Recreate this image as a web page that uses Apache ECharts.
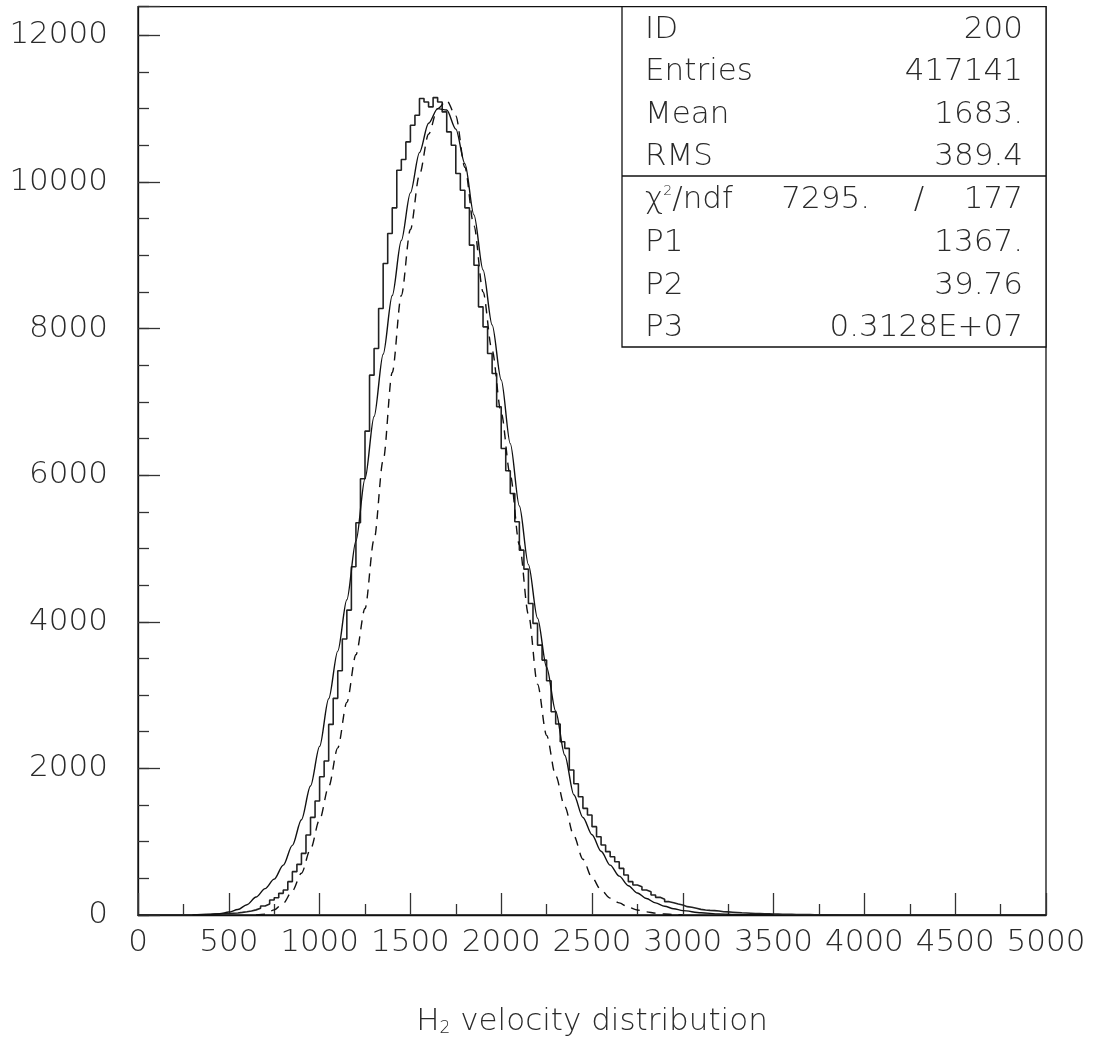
<!DOCTYPE html>
<html><head><meta charset="utf-8">
<script src="https://cdn.jsdelivr.net/npm/echarts@6/dist/echarts.min.js"></script>
<style>html,body{margin:0;padding:0;background:#fff}#c{width:1093px;height:1039px}</style>
</head><body><div id="c"></div>
<script>
// ---- data ----
const binWidth = 25;
const binStart = 0;
const counts = [
0,0,0,0,0,0,0,0,0,0, 0,0,4,6,8,10,12,14,17,20,
24,28,36,45,55,70,91,123,150,205, 236,295,341,455,591,691,841,1091,1332,1555,
1886,2100,2600,2955,3332,3764,4159,4750,5350,5950, 6600,7364,7728,8273,8887,9296,9646,10160,10305,10546,
10773,10910,11137,11091,11023,11150,11091,10955,10682,10500, 10114,9887,9646,9137,8864,8296,8023,7660,7387,6932,
6364,6060,5750,5364,4977,4718,4250,3978,3682,3477, 3195,2773,2605,2364,2273,1977,1790,1614,1455,1364,
1205,1068,955,864,795,727,636,545,455,409, 386,341,318,273,241,214,182,168,150,136,
114,105,91,77,68,63,60,55,45,42, 38,34,30,27,24,21,19,17,15,13,
12,10,9,8,7,6,5,5,4,4, 3,3,2,2,1,1,0,0,0,0,
0,0,0,0,0,0,0,0,0,0, 0,0,0,0,0,0,0,0,0,0,
0,0,0,0,0,0,0,0,0,0, 0,0,0,0,0,0,0,0,0,0
];
const solidX = [300,350,400,450,500,550,600,650,700,750,800,850,900,950,1000,1050,1100,1150,1200,1250,1300,1350,1400,1450,1500,1550,1600,1650,1700,1750,1800,1850,1900,1950,2000,2050,2100,2150,2200,2250,2300,2350,2400,2450,2500,2550,2600,2650,2700,2750,2800,2850,2900,2950,3000,3100,3200,3300,3400,3500];
const solidY = [1,3,8,18,40,75,140,245,360,490,680,950,1300,1760,2300,2950,3600,4300,5100,5950,6800,7650,8450,9200,9850,10400,10800,11000,10980,10720,10250,9550,8800,8050,7300,6430,5580,4780,4050,3380,2780,2180,1640,1330,1095,870,680,530,400,300,225,165,120,85,60,30,15,7,3,1];
const dashX = [650,700,750,800,850,900,950,1000,1050,1100,1150,1200,1250,1300,1350,1400,1450,1500,1550,1600,1650,1700,1750,1800,1850,1900,1950,2000,2050,2100,2150,2200,2250,2300,2350,2400,2450,2500,2550,2600,2650,2700,2750,2800,2850,2900,2950,3000];
const dashY = [2,12,70,160,330,570,900,1300,1750,2280,2900,3550,4180,5120,6200,7400,8450,9350,10100,10650,11000,11110,10900,10200,9400,8500,7700,6850,6000,5050,4100,3150,2450,1900,1480,1080,760,510,340,230,165,105,68,42,25,14,7,2];
const xMin = 0, xMax = 5000, xStep = 500;
const yMin = 0, yMax = 12390, yStep = 2000, yMinorStep = 500;
const statNames = ['ID','Entries','Mean','RMS'];
const statValues = ['200','417141','1683.','389.4'];
const chi2Value = '7295.';
const ndfValue = '177';
const parNames = ['P1','P2','P3'];
const parValues = ['1367.','39.76','0.3128E+07'];
const xTitle = '{n|H}{sub|2}{n| velocity distribution}';

// ---- build ----
const histData = counts.map((c,i)=>[binStart+i*binWidth, c]);
histData.push([binStart+counts.length*binWidth, counts[counts.length-1]]);
const solidData = solidX.map((x,i)=>[x, solidY[i]]);
const dashData = dashX.map((x,i)=>[x, dashY[i]]);

const FONT = 'DejaVu Sans';
const TXT = '#2a2a2a';
const LINE = '#111';
const fs = 31;

const chart = echarts.init(document.getElementById('c'), null, {renderer:'canvas'});

const boxL = 622, boxR = 1046, boxT = 6.7, boxDiv = 176, boxB = 347;
const rowY = [30,72,115,157,200,243,286,328];
const graphics = [
  {type:'rect', shape:{x:boxL, y:boxT, width:boxR-boxL, height:boxB-boxT}, style:{fill:'#fff', stroke:LINE, lineWidth:1.3}, z:100},
  {type:'line', shape:{x1:boxL, y1:boxDiv, x2:boxR, y2:boxDiv}, style:{stroke:LINE, lineWidth:1.3}, z:101}
];
function addText(x,y,text,align,rich){
  graphics.push({type:'text', x:x, y:y, z:102, style:{text:text, fontFamily:FONT, fontSize:fs, fontWeight:200, fill:TXT, align:align, verticalAlign:'middle', rich:rich}});
}
statNames.forEach((n,i)=>{ addText(645,rowY[i],n,'left'); addText(1023,rowY[i],statValues[i],'right'); });
addText(645,rowY[4],'{c|χ}{s|2}{n|/ndf}','left',{
  c:{fontFamily:FONT,fontSize:fs,fontWeight:200,fill:TXT},
  s:{fontFamily:FONT,fontSize:14,fontWeight:200,fill:TXT,verticalAlign:'top',padding:[0,0,14,0]},
  n:{fontFamily:FONT,fontSize:fs,fontWeight:200,fill:TXT}});
addText(870,rowY[4],chi2Value,'right');
addText(919,rowY[4],'/','center');
addText(1023,rowY[4],ndfValue,'right');
parNames.forEach((n,i)=>{ addText(645,rowY[5+i],n,'left'); addText(1023,rowY[5+i],parValues[i],'right'); });

const option = {
  backgroundColor:'#fff',
  animation:false,
  grid:{left:138, right:47, top:6.7, bottom:124, show:true, borderColor:LINE, borderWidth:1.3, backgroundColor:'transparent',
        containLabel:false, outerBoundsMode:'none'},
  xAxis:{
    type:'value', min:xMin, max:xMax, interval:xStep,
    axisLine:{show:true, lineStyle:{color:LINE, width:1.3}},
    axisTick:{show:true, inside:true, length:22, lineStyle:{color:'#333', width:1.3}},
    minorTick:{show:true, splitNumber:2, length:11, lineStyle:{color:'#333', width:1.3}},
    splitLine:{show:false}, minorSplitLine:{show:false},
    axisLabel:{fontFamily:FONT, fontSize:fs, fontWeight:200, color:TXT, margin:12, showMaxLabel:true, showMinLabel:true,
      formatter:(v)=>String(v)},
    name:xTitle, nameLocation:'middle', nameGap:91,
    nameTextStyle:{rich:{
      n:{fontFamily:FONT, fontSize:fs, fontWeight:200, color:TXT},
      sub:{fontFamily:FONT, fontSize:17, fontWeight:200, color:TXT, verticalAlign:'bottom', padding:[10,0,0,0]}
    }}
  },
  yAxis:[{
    type:'value', min:yMin, max:yMax, interval:yStep,
    axisLine:{show:true, lineStyle:{color:LINE, width:1.3}},
    axisTick:{show:true, inside:true, length:22, lineStyle:{color:'#333', width:1.3}},
    splitLine:{show:false},
    axisLabel:{fontFamily:FONT, fontSize:fs, fontWeight:200, color:TXT, margin:30,
      formatter:(v)=> (v % yStep === 0 ? String(v) : '')}
  },{
    type:'value', min:yMin, max:yMax, interval:yMinorStep, position:'left', offset:0,
    axisLine:{show:false},
    axisTick:{show:true, inside:true, length:11, lineStyle:{color:'#333', width:1.3}},
    splitLine:{show:false}, axisLabel:{show:false}
  }],
  series:[
    {type:'line', name:'histogram', data:histData, step:'end', symbol:'none', yAxisIndex:0,
     lineStyle:{color:'#222', width:1.6}, z:5},
    {type:'line', name:'fit', data:solidData, smooth:0.3, smoothMonotone:'x', symbol:'none', yAxisIndex:0,
     lineStyle:{color:'#111', width:1.4}, z:6},
    {type:'line', name:'fit2', data:dashData, smooth:0.3, smoothMonotone:'x', symbol:'none', yAxisIndex:0,
     lineStyle:{color:'#111', width:1.4, type:[9,7]}, z:6}
  ],
  graphic:graphics
};
chart.setOption(option);
</script></body></html>
